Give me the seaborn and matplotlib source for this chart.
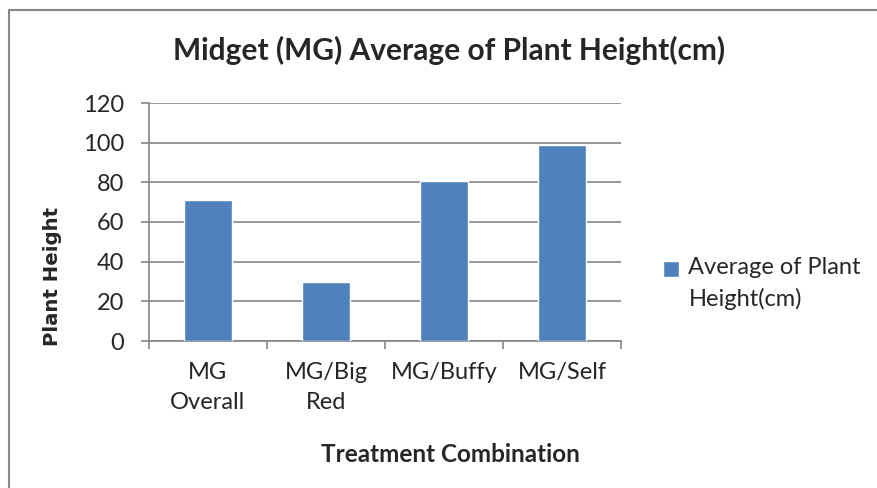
import pandas as pd
import matplotlib.pyplot as plt
import matplotlib.patches as mpatches
import seaborn as sns
from matplotlib.lines import Line2D
from matplotlib.container import BarContainer
from matplotlib.legend_handler import HandlerPatch, update_from_first_child

# data
categories = ["MG\nOverall", "MG/Big\nRed", "MG/Buffy", "MG/Self"]
heights = [71.2, 29.8, 80.8, 98.8]
yticks = [0, 20, 40, 60, 80, 100, 120]

df = pd.DataFrame({"Treatment": categories, "Height": heights})

sns.set_theme(style="white")
plt.rcParams['font.family'] = ['Lato', 'DejaVu Sans']

fig = plt.figure(figsize=(8.78, 4.88), dpi=100)
ax = fig.add_axes([149/878, 1-341/488, 472/878, 238/488])

sns.barplot(data=df, x="Treatment", y="Height", color="#4F81BD", width=0.4,
            saturation=1, ax=ax, label="Average of Plant\nHeight(cm)", zorder=3)

ax.set_ylim(0, 120)
ax.set_xlim(-0.5, 3.5)
ax.set_yticks(yticks)
ax.set_yticklabels([str(v) for v in yticks], fontsize=17)
ax.yaxis.grid(True, color="#868686", linewidth=1.2, zorder=0)
ax.set_axisbelow(True)

# ticks between categories, labels at the centres
ax.set_xticks([-0.5, 0.5, 1.5, 2.5, 3.5])
ax.set_xticklabels([])
ax.set_xticks([0, 1, 2, 3], minor=True)
ax.set_xticklabels(categories, minor=True, fontsize=17, linespacing=1.55)
ax.tick_params(axis="x", which="major", length=6, width=1.2, color="#868686", direction="out", bottom=True)
ax.tick_params(axis="x", which="minor", length=0, pad=15)
ax.tick_params(axis="y", length=6, width=1.2, color="#868686", direction="out", left=True, pad=12)

for s in ["top", "right"]:
    ax.spines[s].set_visible(False)
for s in ["left", "bottom"]:
    ax.spines[s].set_color("#868686")
    ax.spines[s].set_linewidth(1.2)

ax.set_xlabel("")
ax.set_ylabel("")

fig.text(449/878, 1-50/488, "Midget (MG) Average of Plant Height(cm)", fontsize=21.5,
         fontweight="bold", ha="center", va="center")
fig.text(450/878, 1-454/488, "Treatment Combination", fontsize=17.5,
         fontweight="bold", ha="center", va="center")
fig.text(53/878, 1-276/488, "Plant Height", fontsize=14.2, fontweight="bold",
         family="DejaVu Sans", rotation=90, ha="center", va="center")


# legend square sits beside the first line of the label
def top_square(legend, orig_handle, xdescent, ydescent, width, height, fontsize):
    return mpatches.Rectangle((-xdescent, -ydescent + 0.62 * fontsize), width, height)


leg = ax.legend(loc="upper left", bbox_to_anchor=(663/878, 1-257/488),
                bbox_transform=fig.transFigure, frameon=False, fontsize=17,
                handlelength=0.68, handleheight=0.68, handletextpad=0.4,
                borderpad=0, borderaxespad=0,
                handler_map={BarContainer: HandlerPatch(patch_func=top_square,
                                                        update_func=update_from_first_child)})
for t in leg.get_texts():
    t.set_linespacing(1.55)

# chart area border (left and top visible)
fig.add_artist(Line2D([9/878, 9/878, 1], [0, 1-10/488, 1-10/488],
                      transform=fig.transFigure, color="#868686", linewidth=1.5))

fig.savefig("out.png", dpi=100)
